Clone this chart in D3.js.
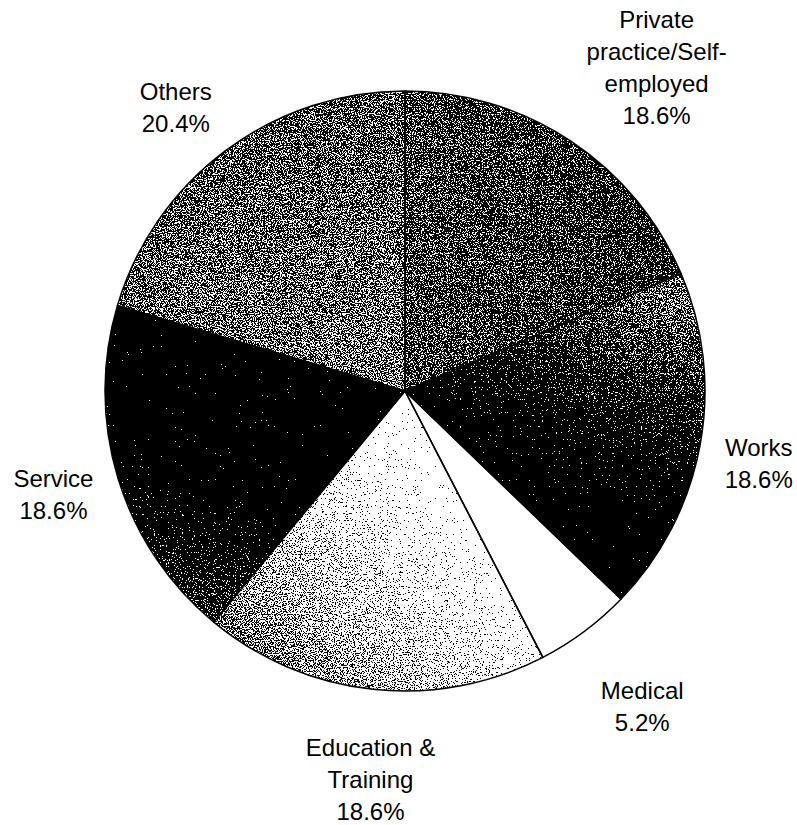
<!DOCTYPE html>
<html lang="en">
	<head>
		<meta charset="utf-8">
		<title>Graduates by sector</title>
		<script type="text/javascript" src="https://d3js.org/d3.v7.min.js"></script>
		<style type="text/css">
			body { margin: 0; background: #fff; }
			text { font-family: "Liberation Sans", Arial, sans-serif; font-size: 24px; fill: #000; }
		</style>
	</head>
	<body>
		<script type="text/javascript">

// DATA
			var categories = ["Private practice/Self-employed", "Works", "Medical", "Education & Training", "Service", "Others"];
			var shares = [18.6, 18.6, 5.2, 18.6, 18.6, 20.4];
			var labelLines = [["Private", "practice/Self-", "employed"], ["Works"], ["Medical"], ["Education &", "Training"], ["Service"], ["Others"]];

// WIDTH AND HEIGHT
			var w = 797;
			var h = 825;
			var cx = 405;
			var cy = 391;
			var radius = 300;
			var labelRadius = 380;
			var lineH = 32;

// SHADING: grey level at the two ends of each slice's gradient, and where the gradient runs
			var tones = [[0.38, 0.32], [0.45, 0.0], [1, 1], [0.95, 0.48], [0.0, 0.3], [0.47, 0.42]];
			var gradEnds = [
				[[20, 120], [60, 280]],
				[[70, 260], [125, 200]],
				[[140, 100], [150, 200]],
				[[160, 60], [215, 290]],
				[[245, 200], [228, 300]],
				[[300, 100], [330, 280]]
			];
			// nudges of each label from its slice centroid on the label ring
			var labelNudge = [[42, -7], [-20, 4], [10, 11], [6, 11], [12, -7], [-2, 21]];

			var svg = d3.select("body")
						.append("svg")
						.attr("width", w)
						.attr("height", h);

			var defs = svg.append("defs");

			// point at an angle (degrees clockwise from 12 o'clock) and distance from the pie centre
			function polar(deg, r) {
				var a = deg * Math.PI / 180;
				return [r * Math.sin(a), -r * Math.cos(a)];
			}

			var grey = d3.scaleLinear().domain([0, 1]).range(["#000", "#fff"]);

// GRADIENTS
			defs.selectAll("linearGradient")
				.data(tones)
				.enter()
				.append("linearGradient")
				.attr("id", function(d, i) { return "g" + i; })
				.attr("gradientUnits", "userSpaceOnUse")
				.attr("x1", function(d, i) { return polar(gradEnds[i][0][0], gradEnds[i][0][1])[0]; })
				.attr("y1", function(d, i) { return polar(gradEnds[i][0][0], gradEnds[i][0][1])[1]; })
				.attr("x2", function(d, i) { return polar(gradEnds[i][1][0], gradEnds[i][1][1])[0]; })
				.attr("y2", function(d, i) { return polar(gradEnds[i][1][0], gradEnds[i][1][1])[1]; })
				.each(function(d) {
					d3.select(this).append("stop").attr("offset", 0).attr("stop-color", grey(d[0]));
					d3.select(this).append("stop").attr("offset", 1).attr("stop-color", grey(d[1]));
				});

// STIPPLE FILTER: add noise to the grey level, then threshold to black/white dots
			var f = defs.append("filter")
				.attr("id", "stipple")
				.attr("filterUnits", "userSpaceOnUse")
				.attr("x", -cx).attr("y", -cy).attr("width", w).attr("height", h)
				.attr("color-interpolation-filters", "sRGB");
			f.append("feTurbulence")
				.attr("type", "fractalNoise")
				.attr("baseFrequency", 0.85)
				.attr("numOctaves", 2)
				.attr("seed", 7)
				.attr("result", "noise");
			f.append("feColorMatrix")
				.attr("in", "noise")
				.attr("type", "matrix")
				.attr("values", "1 0 0 0 0  1 0 0 0 0  1 0 0 0 0  0 0 0 0 1")
				.attr("result", "mono");
			var spread = f.append("feComponentTransfer").attr("in", "mono").attr("result", "spread");
			["feFuncR", "feFuncG", "feFuncB"].forEach(function(c) {
				spread.append(c).attr("type", "linear").attr("slope", 1.7).attr("intercept", -0.35);
			});
			f.append("feComposite")
				.attr("in", "SourceGraphic")
				.attr("in2", "spread")
				.attr("operator", "arithmetic")
				.attr("k1", 0).attr("k2", 1).attr("k3", 1).attr("k4", -0.5)
				.attr("result", "mix");
			var thr = f.append("feComponentTransfer").attr("in", "mix").attr("result", "dots");
			["feFuncR", "feFuncG", "feFuncB"].forEach(function(c) {
				thr.append(c).attr("type", "discrete").attr("tableValues", "0 1");
			});
			f.append("feComposite")
				.attr("in", "dots")
				.attr("in2", "SourceGraphic")
				.attr("operator", "in");

// PIE
			var pie = d3.pie().sort(null).value(function(d) { return d; });
			var arcs = pie(shares);
			var arc = d3.arc().innerRadius(0).outerRadius(radius);

			var chart = svg.append("g").attr("transform", "translate(" + cx + "," + cy + ")");

			chart.append("g")
				.attr("filter", "url(#stipple)")
				.selectAll("path")
				.data(arcs)
				.enter()
				.append("path")
				.attr("d", arc)
				.attr("fill", function(d, i) { return "url(#g" + i + ")"; });

			// outlines on top of the shading
			chart.append("g")
				.selectAll("path")
				.data(arcs)
				.enter()
				.append("path")
				.attr("d", arc)
				.attr("fill", "none")
				.attr("stroke", "#000")
				.attr("stroke-width", 1.5)
				.attr("stroke-linejoin", "round");

// LABELS
			var labelArc = d3.arc().innerRadius(labelRadius).outerRadius(labelRadius);

			var labels = chart.append("g")
				.selectAll("text")
				.data(arcs)
				.enter()
				.append("text")
				.attr("text-anchor", "middle")
				.attr("transform", function(d, i) {
					var c = labelArc.centroid(d);
					var lines = labelLines[i].length + 1;
					var x = c[0] + labelNudge[i][0];
					var y = c[1] + labelNudge[i][1] - (lines - 1) * lineH / 2 + 8.5;
					return "translate(" + x + "," + y + ")";
				});

			labels.each(function(d, i) {
				var t = d3.select(this);
				var lines = labelLines[i].concat([d3.format(".1f")(shares[i]) + "%"]);
				lines.forEach(function(s, k) {
					t.append("tspan").attr("x", 0).attr("y", k * lineH).text(s);
				});
			});

		</script>
	</body>
</html>
